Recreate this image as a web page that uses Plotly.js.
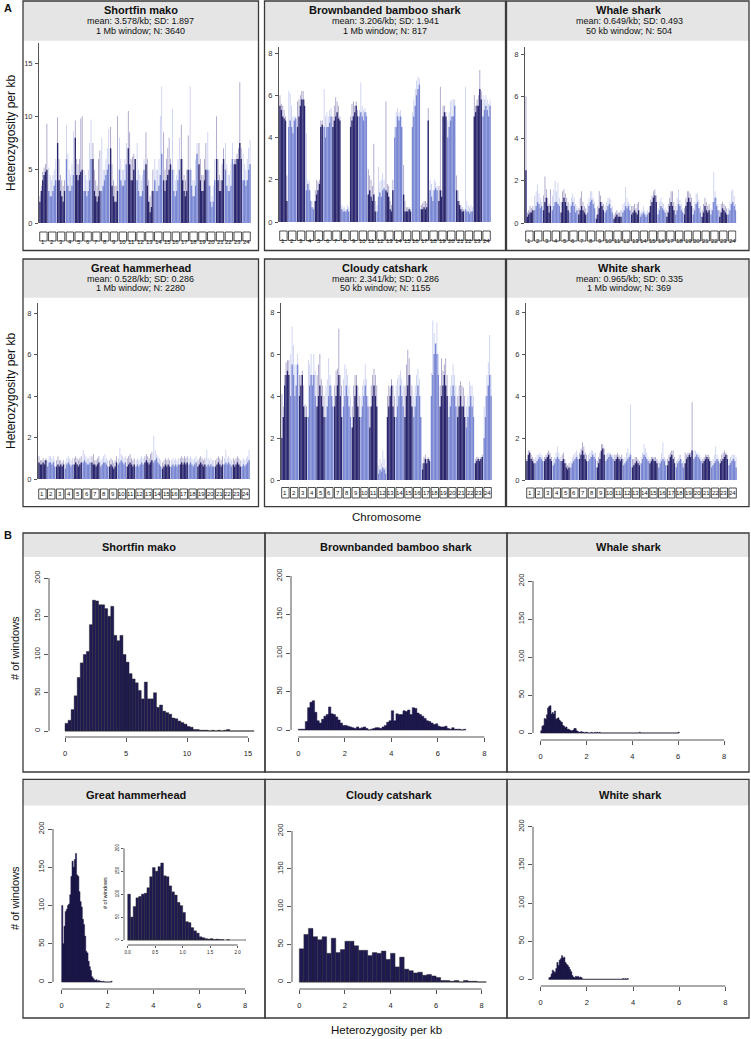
<!DOCTYPE html>
<html><head><meta charset="utf-8">
<script src="https://cdn.plot.ly/plotly-3.0.1.min.js"></script>
<style>body{margin:0;background:#fff}#chart{width:751px;height:1039px}</style>
</head><body><div id="chart"></div>
<script>
// ---------------- DATA ----------------
const chrLabels=['1','2','3','4','5','6','7','8','9','10','11','12','13','14','15','16','17','18','19','20','21','22','23','24'];
const speciesNames=['Shortfin mako','Brownbanded bamboo shark','Whale shark','Great hammerhead','Cloudy catshark','White shark'];
const speciesStats=['mean: 3.578/kb; SD: 1.897','mean: 3.206/kb; SD: 1.941','mean: 0.649/kb; SD: 0.493','mean: 0.528/kb; SD: 0.286','mean: 2.341/kb; SD: 0.286','mean: 0.965/kb; SD: 0.335'];
const speciesWindows=['1 Mb window; N: 3640','1 Mb window; N: 817','50 kb window; N: 504','1 Mb window; N: 2280','50 kb window; N: 1155','1 Mb window; N: 369'];

// heterozygosity per kb along each chromosome (body = dense level, peak = highest windows)
const makoBody=[[2.0,3.0,4.0,4.5,4.8,5.0],[3.0,2.5,2.5,3.0,3.5,4.0],[7.5,4.0,3.0,2.5,2.0,3.0],[6.0,3.5,3.0,3.0,3.5,4.5],[8.0,4.5,4.0,4.5,4.8,5.0],[3.0,3.0,2.5,3.0,4.0,6.0],[6.0,3.0,2.5,2.0,2.5,3.0],[3.0,3.5,4.0,4.5,5.0,5.5],[7.0,3.5,2.5,2.0,2.0,3.0],[5.0,4.0,3.5,3.5,4.0,5.5],[7.0,5.5,4.0,4.0,5.0,6.0],[4.0,3.0,2.5,2.5,3.0,5.0],[5.5,3.5,2.0,1.0,1.5,3.0],[4.0,3.0,3.0,3.5,4.5,6.5],[4.0,3.0,4.0,4.5,5.0,5.5],[5.0,3.0,2.5,3.0,4.0,5.0],[6.0,4.0,3.0,2.5,3.0,5.0],[5.0,3.5,2.5,2.5,3.5,6.5],[5.5,4.0,3.0,3.0,4.0,5.0],[5.0,3.5,2.0,1.5,2.0,4.0],[6.0,4.0,3.0,3.0,4.0,6.0],[5.0,3.5,3.0,3.0,3.5,6.0],[5.5,5.5,6.0,6.0,7.5,6.0],[4.0,4.0,3.5,4.0,5.0,5.5]];
const makoPeak=[[2.5,3.5,4.8,5.2,5.5,9.3],[5.2,4.5,4.0,4.5,5.0,6.0],[9.9,6.0,4.5,4.0,3.5,4.0],[9.2,6.5,5.0,4.5,5.5,8.6],[9.6,6.0,5.5,6.0,9.8,10.0],[5.0,4.5,4.0,5.0,7.5,9.7],[7.5,5.0,4.0,3.5,6.0,6.8],[8.0,5.0,5.0,6.0,7.0,8.8],[9.0,5.5,4.0,3.5,3.5,10.0],[8.0,6.0,5.0,5.0,6.0,7.5],[10.5,8.5,6.0,6.2,6.5,6.0],[7.5,5.0,4.5,4.0,4.5,6.0],[8.5,6.0,4.0,2.5,3.0,5.0],[6.0,5.0,5.0,6.0,10.0,12.8],[8.5,5.0,6.0,7.0,8.0,6.0],[10.7,5.0,4.0,4.5,6.0,8.0],[9.2,6.0,4.5,4.0,5.0,8.2],[12.8,5.0,4.0,4.0,6.0,7.5],[7.5,6.0,4.5,4.5,6.0,7.5],[8.5,5.0,3.5,2.5,3.5,6.0],[10.0,6.0,4.5,4.0,5.5,7.0],[7.5,5.5,4.5,4.5,5.5,7.5],[6.0,6.0,6.5,7.0,13.2,7.0],[6.5,5.5,5.0,6.0,7.0,7.8]];
const bambooBody=[[5.5,5.3,5.0,4.9,4.8,1.0],[4.5,4.8,4.5,4.2,4.8,4.9],[4.5,5.0,5.5,5.8,5.8,5.5],[1.5,1.8,1.5,1.0,0.7,0.6],[1.0,1.3,1.5,1.8,4.5,4.6],[4.5,4.0,4.5,4.5,4.7,5.0],[4.5,4.8,5.0,5.2,4.9,4.8],[0.6,0.5,0.5,0.5,0.6,0.5],[4.5,4.8,5.0,5.2,5.5,5.0],[5.0,5.2,5.0,4.8,5.2,5.0],[1.3,1.5,1.2,1.0,1.3,0.5],[0.5,1.2,1.4,1.2,1.5,1.6],[1.5,1.4,1.2,0.6,0.5,1.5],[4.0,4.5,5.0,4.8,5.0,4.5],[1.3,0.5,0.5,0.5,0.6,0.5],[4.5,5.0,5.5,6.0,6.3,6.5],[0.6,0.6,0.7,0.6,0.7,4.8],[1.5,1.2,1.0,1.5,1.6,1.5],[1.0,1.5,1.2,5.0,5.2,5.0],[4.0,4.5,4.8,5.0,5.0,5.5],[1.5,1.0,0.8,0.6,0.5,0.5],[0.6,0.5,0.5,0.4,0.5,0.5],[5.0,5.2,5.5,5.5,6.3,5.8],[5.0,5.3,5.5,5.3,5.0,5.5]];
const bambooPeak=[[6.0,5.6,5.5,5.3,5.0,2.2],[6.2,6.1,5.5,5.0,5.0,5.0],[5.7,5.8,6.0,6.2,6.2,5.8],[4.2,2.0,1.9,1.5,1.0,0.7],[1.5,2.0,1.9,2.0,4.8,4.8],[6.3,5.0,5.2,5.0,5.3,5.4],[5.0,5.5,5.9,5.7,5.5,5.0],[0.8,0.7,0.7,0.6,0.8,0.7],[5.0,5.6,5.7,5.5,5.7,5.3],[5.3,6.6,5.5,5.3,5.4,5.2],[2.5,2.2,2.0,1.7,3.7,1.0],[0.8,2.6,1.9,2.0,2.3,2.0],[5.7,1.8,1.7,1.0,0.8,2.0],[4.5,5.2,5.4,5.2,5.3,5.0],[2.7,1.0,0.7,0.7,0.7,0.6],[5.2,5.8,6.3,6.7,6.9,6.8],[0.8,0.9,1.0,1.0,0.9,5.4],[2.0,1.8,1.5,2.0,1.9,1.7],[1.7,6.4,1.5,5.5,5.5,5.2],[4.8,5.2,5.7,5.8,5.8,5.8],[2.2,1.5,1.0,0.8,0.7,0.6],[6.4,1.0,0.8,0.7,0.8,0.7],[6.0,5.5,5.8,6.0,7.2,6.2],[6.0,5.8,6.0,5.8,5.6,5.8]];
const whaleBody=[[2.5,0.3,0.4,0.5,0.5,0.6],[0.6,0.8,1.0,0.9,0.7,0.8],[0.6,1.0,1.2,0.8,0.5,0.8],[0.6,0.8,1.0,1.0,0.9,0.8],[0.5,1.0,1.2,1.0,0.8,0.6],[0.5,0.8,1.0,0.8,0.5,0.6],[0.4,0.6,0.8,0.6,0.5,0.4],[0.5,0.8,1.0,1.1,0.9,0.7],[0.2,0.4,0.7,1.0,0.8,0.6],[0.5,0.6,0.8,0.9,0.7,0.5],[0.2,0.3,0.4,0.3,0.3,0.3],[0.5,0.6,0.8,0.7,0.8,0.6],[0.4,0.5,0.6,0.5,0.4,0.6],[0.3,0.4,0.5,0.4,0.3,0.4],[0.5,0.8,1.0,1.2,1.3,1.0],[0.4,0.6,0.8,0.7,0.6,0.5],[0.3,0.5,0.8,1.0,0.8,0.6],[0.4,0.6,0.9,0.8,0.6,0.5],[0.4,0.8,1.0,1.2,1.0,0.8],[0.4,0.6,0.9,1.0,0.7,0.5],[0.3,0.5,0.8,0.6,0.5,0.6],[0.4,0.6,1.0,1.2,0.8,0.6],[0.3,0.5,0.7,0.6,0.5,0.4],[0.4,0.6,0.9,1.0,0.8,0.6]];
const whalePeak=[[6.0,0.5,0.6,0.8,0.7,0.8],[1.3,1.5,1.8,1.4,1.2,1.0],[1.3,2.2,1.6,1.2,0.9,1.6],[1.3,1.6,2.0,1.5,1.9,1.2],[1.0,1.5,1.6,1.4,1.2,1.0],[0.9,1.2,1.4,1.2,0.9,0.8],[0.7,1.2,1.5,1.0,0.8,0.7],[0.9,1.2,1.5,1.5,1.2,1.0],[0.4,0.8,1.5,1.3,1.0,0.9],[0.8,1.0,1.2,1.2,1.1,0.8],[0.4,0.5,0.6,0.5,0.5,0.6],[0.9,1.0,1.7,1.2,1.0,0.9],[0.8,0.8,0.9,0.7,0.9,1.0],[0.5,0.6,0.8,0.6,0.5,0.6],[0.8,1.1,1.3,1.5,1.6,1.3],[0.7,1.0,1.2,1.0,0.9,0.7],[0.6,0.9,1.2,1.5,1.5,1.0],[0.8,1.2,1.6,1.1,0.9,0.7],[0.7,1.2,1.5,1.5,1.4,1.2],[0.7,1.0,1.4,1.4,1.1,0.8],[0.6,0.9,1.2,1.0,0.8,0.9],[0.7,1.0,2.4,1.5,1.2,0.9],[0.6,0.9,1.0,0.9,0.8,0.7],[0.7,1.0,1.5,1.6,1.3,0.9]];
const hammerBody=[[0.8,0.7,0.7,0.8,0.7,0.9],[0.6,0.8,0.8,0.7,0.8,0.6],[0.6,0.7,0.6,0.7,0.6,0.7],[0.5,0.7,0.8,0.7,0.6,0.7],[0.7,0.8,0.7,0.6,0.7,0.8],[0.8,0.9,0.8,0.7,0.7,0.8],[0.8,0.7,0.7,0.6,0.7,0.8],[0.6,0.7,0.8,0.8,0.7,0.6],[0.6,0.7,0.6,0.5,0.6,0.8],[0.7,0.8,0.9,0.8,0.7,0.8],[0.6,0.7,0.8,0.7,0.6,0.7],[0.6,0.7,0.6,0.7,0.8,0.7],[0.8,0.9,0.8,0.7,0.8,0.9],[0.8,0.9,1.0,0.8,0.7,0.6],[0.5,0.6,0.7,0.6,0.7,0.6],[0.6,0.7,0.6,0.7,0.6,0.7],[0.7,0.8,0.7,0.8,0.7,0.8],[0.7,0.8,0.7,0.6,0.7,0.8],[0.6,0.7,0.8,0.7,0.6,0.7],[0.6,0.7,0.6,0.7,0.6,0.6],[0.6,0.7,0.8,0.7,0.6,0.7],[0.7,0.8,0.7,0.8,0.7,0.6],[0.7,0.6,0.7,0.8,0.7,0.6],[0.6,0.7,0.6,0.7,0.8,0.9]];
const hammerPeak=[[1.1,0.9,0.9,1.0,0.9,1.0],[0.9,1.1,1.1,1.0,1.1,0.9],[0.9,1.1,0.9,0.9,0.8,0.9],[0.8,1.0,1.1,1.0,0.9,1.0],[1.0,1.1,1.0,0.9,1.0,1.1],[1.4,1.2,1.1,1.0,1.0,1.1],[1.1,1.2,0.9,0.9,1.0,1.1],[0.9,1.0,1.1,1.2,1.0,0.9],[0.9,1.0,0.9,0.8,0.9,1.1],[1.0,1.5,1.2,1.1,1.0,1.1],[1.0,1.1,1.2,1.0,0.9,1.0],[0.9,1.0,0.9,1.0,1.1,1.0],[1.1,1.2,1.1,1.0,1.2,1.3],[2.1,1.4,1.2,1.1,1.0,0.9],[0.8,0.9,1.0,0.9,1.0,0.9],[0.9,1.0,0.9,1.0,0.9,1.0],[1.0,1.1,1.0,1.1,1.0,1.1],[1.0,1.1,1.0,0.9,1.0,1.1],[0.9,1.0,1.1,1.0,0.9,1.0],[1.4,1.0,0.9,1.0,0.9,0.9],[0.9,1.0,1.1,1.0,0.9,1.1],[1.0,1.4,1.0,1.1,1.0,0.9],[1.0,0.9,1.0,1.1,1.0,0.9],[0.9,1.0,0.9,1.0,1.1,1.4]];
const catBody=[[2.0,3.0,4.5,5.0,5.2,5.0],[4.0,5.5,5.0,4.0,4.5,5.5],[4.0,4.5,5.0,3.5,3.0,3.0],[3.0,4.5,5.0,4.5,5.0,4.0],[3.5,4.0,4.5,4.0,3.5,3.0],[3.0,3.5,4.0,4.5,4.0,3.5],[3.5,4.0,4.5,5.0,4.0,3.0],[3.5,4.0,4.5,4.0,3.5,3.0],[2.5,3.0,4.0,4.5,3.5,3.0],[3.0,3.5,4.0,4.5,4.0,3.5],[2.5,3.5,4.0,4.5,4.0,3.5],[0.3,0.5,0.4,0.6,0.5,0.3],[3.0,3.5,4.0,4.5,3.5,3.0],[3.0,3.5,4.0,4.5,4.0,3.5],[3.0,4.0,4.5,5.0,4.0,3.5],[3.0,3.5,4.0,4.5,4.0,3.0],[0.5,0.8,1.0,0.8,1.0,0.9],[4.0,5.0,6.0,6.5,6.0,5.0],[3.5,4.0,4.5,5.0,4.5,4.0],[3.0,3.5,4.0,4.5,4.0,3.5],[3.0,3.5,4.0,3.5,3.5,3.0],[2.5,3.0,3.5,4.0,3.5,3.0],[0.8,0.9,1.0,0.9,1.0,1.1],[2.0,3.0,4.0,4.5,5.0,4.0]];
const catPeak=[[4.1,3.5,5.0,5.6,5.7,5.7],[6.0,7.3,6.4,5.5,5.5,6.0],[5.0,5.0,5.2,4.5,3.6,3.5],[5.7,5.5,6.0,5.0,6.0,5.2],[5.0,5.5,6.0,4.8,4.5,4.0],[4.5,4.8,5.8,5.0,4.5,4.0],[4.5,5.2,5.3,7.2,5.0,4.5],[4.8,5.5,5.3,5.0,4.5,4.0],[3.5,4.5,5.0,5.0,4.5,4.0],[4.0,4.5,4.8,5.5,4.8,4.0],[3.5,4.5,5.0,5.3,5.0,4.5],[0.7,1.0,0.8,1.4,1.0,0.6],[4.0,4.5,4.4,4.8,4.5,4.0],[4.5,4.8,5.0,5.2,4.8,4.5],[4.5,5.5,6.2,5.8,5.0,4.5],[4.0,4.5,5.0,5.3,4.8,4.0],[0.8,1.1,1.2,1.0,1.1,1.0],[5.1,7.6,7.0,6.4,7.5,6.0],[4.5,5.8,5.2,5.5,5.8,5.0],[4.0,4.5,5.0,5.5,5.0,4.5],[4.0,4.5,4.7,4.5,4.4,4.0],[3.5,4.0,4.7,4.5,4.5,4.0],[1.0,1.1,1.1,1.0,1.1,1.2],[3.5,4.0,5.0,5.6,6.9,5.0]];
const whiteBody=[[0.9,1.2,1.3,1.0,0.9,0.8],[0.8,0.9,1.0,1.1,1.0,0.9],[0.9,1.0,1.1,1.2,1.0,0.9],[0.7,0.8,1.0,1.1,1.0,0.9],[0.9,1.0,0.8,0.6,0.5,0.6],[0.6,0.8,0.9,1.0,1.1,1.0],[1.0,1.2,1.4,1.2,1.0,0.9],[0.9,1.0,1.1,1.2,1.1,1.0],[0.6,0.8,1.0,1.4,1.5,1.2],[0.9,1.0,1.1,1.2,1.1,1.0],[0.9,1.0,1.1,1.0,0.9,1.0],[0.7,0.8,0.9,1.0,1.1,1.2],[0.6,0.7,0.8,0.9,0.8,0.7],[0.8,1.0,1.2,1.1,1.0,0.9],[0.8,0.9,1.0,0.9,0.9,0.8],[0.6,0.8,0.9,1.0,0.9,0.7],[0.7,0.9,1.1,1.2,1.0,0.8],[0.6,0.8,0.9,1.0,0.8,0.6],[0.8,1.0,1.1,1.2,1.1,1.4],[1.0,1.1,1.2,1.1,1.0,0.9],[0.8,0.9,1.0,1.1,1.0,0.9],[0.6,0.7,0.8,0.9,1.0,0.9],[0.8,0.9,1.0,1.1,1.2,1.0],[0.7,0.8,0.9,1.0,0.9,0.6]];
const whitePeak=[[1.0,1.4,1.4,1.2,1.1,1.0],[1.1,1.2,1.2,1.3,1.2,1.1],[1.1,1.2,1.3,1.4,1.3,1.1],[1.0,1.1,1.3,1.6,1.3,1.1],[1.2,1.3,1.0,0.8,0.7,0.8],[0.9,1.1,1.2,1.3,1.4,1.2],[1.3,1.5,1.8,1.6,1.3,1.2],[1.2,1.3,1.4,1.4,1.3,1.3],[0.9,1.1,1.3,1.7,1.7,1.5],[1.2,1.3,1.3,1.3,1.2,1.2],[1.2,1.2,1.3,1.2,1.1,1.2],[1.0,1.1,1.3,1.5,1.3,3.6],[1.0,1.0,1.1,1.1,1.0,0.9],[1.1,1.3,1.7,1.5,1.3,1.1],[1.0,1.1,1.1,1.1,1.1,1.0],[0.9,1.0,1.3,1.8,1.1,1.0],[1.0,1.2,1.3,1.4,1.4,1.1],[0.9,1.0,1.2,1.2,1.0,0.9],[1.3,1.2,1.3,1.3,1.3,3.7],[1.4,1.4,1.3,1.3,1.2,1.1],[1.0,1.1,1.2,1.2,1.2,1.1],[0.9,1.0,1.2,1.6,1.2,1.0],[1.0,1.2,1.3,1.4,1.3,1.2],[1.0,1.1,1.2,1.2,1.2,1.1]];

// histograms: bin starts and counts (# of windows)
const makoBins=[0,0.25,0.5,0.75,1,1.25,1.5,1.75,2,2.25,2.5,2.75,3,3.25,3.5,3.75,4,4.25,4.5,4.75,5,5.25,5.5,5.75,6,6.25,6.5,6.75,7,7.25,7.5,7.75,8,8.25,8.5,8.75,9,9.25,9.5,9.75,10,10.25,10.5,10.75,11,11.25,11.5,11.75,12,12.25,12.5,12.75,13,13.25,13.5,13.75,14,14.25,14.5,14.75,15,15.25];
const makoCounts=[10,14,28,46,70,89,100,104,139,171,170,165,165,160,150,163,125,118,125,100,90,75,68,63,53,42,64,42,42,50,31,34,26,24,22,17,16,13,11,9,6,5,2,2,1,1,1,0,1,0,1,0,1,2,0,0,0,0,0,0,0,0];
const bambooBins=[0,0.1,0.2,0.3,0.4,0.5,0.6,0.7,0.8,0.9,1.0,1.1,1.2,1.3,1.4,1.5,1.6,1.7,1.8,1.9,2.0,2.1,2.2,2.3,2.4,2.5,2.6,2.7,2.8,2.9,3.0,3.1,3.2,3.3,3.4,3.5,3.6,3.7,3.8,3.9,4.0,4.1,4.2,4.3,4.4,4.5,4.6,4.7,4.8,4.9,5.0,5.1,5.2,5.3,5.4,5.5,5.6,5.7,5.8,5.9,6.0,6.1,6.2,6.3,6.4,6.5,6.6,6.7,6.8,6.9,7.0,7.1];
const bambooCounts=[1,1,1,11,29,36,38,23,12,9,14,18,20,30,21,20,17,13,9,6,6,5,4,3,2,4,2,3,4,2,0,1,2,3,3,2,4,6,10,12,25,12,21,20,20,25,24,26,20,29,28,22,20,18,15,12,11,9,7,8,5,4,4,5,2,1,3,1,1,1,0,1];
const whaleBins=[0,0.05,0.1,0.15,0.2,0.25,0.3,0.35,0.4,0.45,0.5,0.55,0.6,0.65,0.7,0.75,0.8,0.85,0.9,0.95,1.0,1.05,1.1,1.15,1.2,1.25,1.3,1.35,1.4,1.45,1.5,1.55,1.6,1.65,1.7,1.75,1.8,1.85,1.95,2.0,2.2,2.35,2.45,2.55,4.3,6.0];
const whaleCounts=[3,9,10,19,18,24,33,35,36,25,27,25,29,18,19,20,17,15,14,10,9,7,8,5,5,4,3,3,4,6,6,3,2,1,1,2,1,1,1,1,1,1,1,1,1,1];
const hammerBins=[0,0.05,0.1,0.15,0.2,0.25,0.3,0.35,0.4,0.45,0.5,0.55,0.6,0.65,0.7,0.75,0.8,0.85,0.9,0.95,1.0,1.05,1.1,1.15,1.2,1.25,1.3,1.35,1.4,1.45,1.5,1.55,1.6,1.65,1.7,1.8,2.15];
const hammerCounts=[100,50,73,92,95,100,102,114,138,158,150,160,168,140,138,118,105,98,82,75,60,40,38,27,20,15,7,5,3,2,3,1,2,1,1,1,1];
const catBins=[0,0.2,0.4,0.6,0.8,1.0,1.2,1.4,1.6,1.8,2.0,2.2,2.4,2.6,2.8,3.0,3.2,3.4,3.6,3.8,4.0,4.2,4.4,4.6,4.8,5.0,5.2,5.4,5.6,5.8,6.0,6.2,6.4,6.6,6.8,7.0,7.2,7.4,7.6,7.8,8.0];
const catCounts=[44,63,71,60,56,60,38,58,39,43,54,54,48,42,42,35,39,38,41,30,38,20,33,17,15,12,13,9,10,8,6,2,2,1,2,0,2,1,1,0,0];
const whiteBins=[0.35,0.4,0.45,0.5,0.55,0.6,0.65,0.7,0.75,0.8,0.85,0.9,0.95,1.0,1.05,1.1,1.15,1.2,1.25,1.3,1.35,1.4,1.45,1.5,1.55,1.6,1.65,1.7,1.75,3.55,3.65,3.75];
const whiteCounts=[2,3,7,12,10,9,14,22,18,25,27,31,28,29,22,20,18,16,13,10,5,3,2,4,3,4,2,3,2,1,1,1];
const makoBinWidth=0.25, bambooBinWidth=0.1, whaleBinWidth=0.05, hammerBinWidth=0.05, catBinWidth=0.2, whiteBinWidth=0.05;

// ---------------- LAYOUT HELPERS ----------------
const W=751,H=1039;
const FONT='Liberation Sans, Arial, Helvetica, sans-serif';
const px=x=>x/W, py=y=>1-y/H;
const ax=(k)=>k===1?'':String(k);
function lin(p0,v0,p1,v1,p){return v0+(p-p0)*(v1-v0)/(p1-p0);}

const DARK='#2a276e', LIGHT='#7987d3', DARK_T='#a29cc4', LIGHT_T='#c7cdf0';
const HIST='#1f1b52';

const traces=[]; const shapes=[]; const annotations=[];
const layout={width:W,height:H,margin:{l:0,r:0,t:0,b:0},paper_bgcolor:'#fff',plot_bgcolor:'rgba(0,0,0,0)',
  showlegend:false,barmode:'overlay',font:{family:FONT,color:'#222'},shapes:shapes,annotations:annotations};

// panel frames [x0,x1] and [yTop,yHeaderBottom,yBottom]
const colsA=[[23,258.5],[264.5,505.5],[506.5,749]];
const colsB=[[23,265],[265,507],[507,749]];
const rowsA=[[1,40.7,250.5],[259,297.7,506.7]];
const rowsB=[[533,557,772],[779.3,805.5,1018]];
function frame(x0,x1,y0,yh,y1){
  shapes.push({type:'rect',xref:'paper',yref:'paper',x0:px(x0),x1:px(x1),y0:py(yh),y1:py(y0),fillcolor:'#e5e5e5',line:{width:0},layer:'below'});
  shapes.push({type:'rect',xref:'paper',yref:'paper',x0:px(x0),x1:px(x1),y0:py(y1),y1:py(y0),fillcolor:'rgba(0,0,0,0)',line:{color:'#3a3a3a',width:1.3}});
}
rowsA.forEach(r=>colsA.forEach(c=>frame(c[0],c[1],r[0],r[1],r[2])));
rowsB.forEach(r=>colsB.forEach(c=>frame(c[0],c[1],r[0],r[1],r[2])));

function text(x,y,t,size,opts){annotations.push(Object.assign({xref:'paper',yref:'paper',x:px(x),y:py(y),text:t,showarrow:false,xanchor:'center',yanchor:'middle',font:{family:FONT,size:size,color:'#111'}},opts||{}));}

// ---------------- PANEL A: chromosome plots ----------------
const manh=[
 {body:makoBody,peak:makoPeak,x0:39,x1:251,yTop:43,y0:223,refV:15,refP:63,ticks:[0,5,10,15],box:[232,241]},
 {body:bambooBody,peak:bambooPeak,x0:279,x1:491,yTop:47,y0:222,refV:8,refP:53,ticks:[0,2,4,6,8],box:[231,240.5]},
 {body:whaleBody,peak:whalePeak,x0:525,x1:736.5,yTop:47,y0:223,refV:8,refP:54,ticks:[0,2,4,6,8],box:[231,241]},
 {body:hammerBody,peak:hammerPeak,x0:38,x1:250,yTop:303,y0:479,refV:8,refP:313,ticks:[0,2,4,6,8],box:[489,499]},
 {body:catBody,peak:catPeak,x0:281,x1:492,yTop:303,y0:480,refV:8,refP:312,ticks:[0,2,4,6,8],box:[487.5,498]},
 {body:whiteBody,peak:whitePeak,x0:526,x1:737,yTop:303,y0:480,refV:8,refP:312,ticks:[0,2,4,6,8],box:[488,498]}
];
manh.forEach((m,i)=>{
  const k=i+1, xa='x'+ax(k), ya='y'+ax(k);
  const top=lin(m.y0,0,m.refP,m.refV,m.yTop);
  layout['xaxis'+ax(k)]={domain:[px(m.x0),px(m.x1)],range:[0,24],visible:false,anchor:ya,fixedrange:true};
  layout['yaxis'+ax(k)]={domain:[py(m.y0),py(m.yTop)],range:[0,top],anchor:xa,showline:true,linecolor:'#555',linewidth:1,
    ticks:'outside',ticklen:3,tickcolor:'#555',tickvals:m.ticks,ticktext:m.ticks.map(String),tickfont:{size:7.5,color:'#333'},
    showgrid:false,zeroline:false,ticklabelstandoff:1,fixedrange:true};
  const xs=[],yb=[],yp=[],cb=[],cp=[],wd=[],wp=[];
  m.body.forEach((row,c)=>{const n=row.length;row.forEach((v,j)=>{
    xs.push(c+0.03+(j+0.5)*0.94/n); wd.push(0.94/n); wp.push(0.94/n*0.6); yb.push(v); yp.push(m.peak[c][j]);
    cb.push(c%2===0?DARK:LIGHT); cp.push(c%2===0?DARK_T:LIGHT_T);});});
  traces.push({type:'bar',x:xs,y:yp,width:wp,xaxis:xa,yaxis:ya,marker:{color:cp,line:{width:0}},hoverinfo:'skip'});
  traces.push({type:'bar',x:xs,y:yb,width:wd,xaxis:xa,yaxis:ya,marker:{color:cb,line:{width:0}},hoverinfo:'skip'});
  chrLabels.forEach((lab,c)=>{
    shapes.push({type:'rect',xref:xa,yref:'paper',x0:c+0.08,x1:c+0.92,y0:py(m.box[1]),y1:py(m.box[0]),fillcolor:'#fff',line:{color:'#222',width:0.8}});
    annotations.push({xref:xa,yref:'paper',x:c+0.5,y:py((m.box[0]+m.box[1])/2),text:lab,showarrow:false,font:{family:FONT,size:6,color:'#111'}});
  });
});

// panel A titles
const titleA=[[140.5,10,21,31],[385,10,21,31],[629,10,21,31],[140.5,268,279,288],[385,268,279,288],[629,268,279,288]];
titleA.forEach((t,i)=>{
  text(t[0],t[1],'<b>'+speciesNames[i]+'</b>',11);
  text(t[0],t[2],speciesStats[i],9);
  text(t[0],t[3],speciesWindows[i],9);
});
text(11,133,'Heterozygosity per kb',12,{textangle:-90});
text(11,391,'Heterozygosity per kb',12,{textangle:-90});
text(386,517,'Chromosome',11.5);
text(8,8,'<b>A</b>',11);
text(8,535,'<b>B</b>',11);

// ---------------- PANEL B: histograms ----------------
const hists=[
 {bins:makoBins,counts:makoCounts,w:makoBinWidth,yAxX:49,yz:731,y200:578,xAxY:737,x0p:65,x0v:0,x1p:248,x1v:15,right:256,top:572,xt:[0,5,10,15]},
 {bins:bambooBins,counts:bambooCounts,w:bambooBinWidth,yAxX:291,yz:730,y200:576,xAxY:737,x0p:298.3,x0v:0,x1p:484.3,x1v:8,right:500,top:570,xt:[0,2,4,6,8]},
 {bins:whaleBins,counts:whaleCounts,w:whaleBinWidth,yAxX:533,yz:733,y200:581,xAxY:740,x0p:540.7,x0v:0,x1p:724,x1v:8,right:745,top:575,xt:[0,2,4,6,8]},
 {bins:hammerBins,counts:hammerCounts,w:hammerBinWidth,yAxX:53,yz:982,y200:829,xAxY:989,x0p:61.7,x0v:0,x1p:245,x1v:8,right:255,top:823,xt:[0,2,4,6,8]},
 {bins:catBins,counts:catCounts,w:catBinWidth,yAxX:292,yz:982,y200:831,xAxY:989,x0p:299.3,x0v:0,x1p:481.7,x1v:8,right:500,top:825,xt:[0,2,4,6,8]},
 {bins:whiteBins,counts:whiteCounts,w:whiteBinWidth,yAxX:533,yz:979.3,y200:826.7,xAxY:986,x0p:540.7,x0v:0,x1p:725.3,x1v:8,right:745,top:820,xt:[0,2,4,6,8]},
 {bins:hammerBins,counts:hammerCounts,w:hammerBinWidth,yAxX:124,yz:940,y200:848.3,xAxY:945,x0p:127.7,x0v:0,x1p:237.7,x1v:2,right:246,top:842,xt:[0,0.5,1,1.5,2],xtt:['0.0','0.5','1.0','1.5','2.0'],inset:true}
];
hists.forEach((h,i)=>{
  const k=i+7, xa='x'+ax(k), ya='y'+ax(k);
  const fs=h.inset?4.5:7.5, tl=h.inset?2:4;
  const pxPerUnit=(h.x1p-h.x0p)/(h.x1v-h.x0v);
  const narrow=h.w*pxPerUnit<2.5;
  layout['xaxis'+ax(k)]={domain:[px(h.yAxX),px(h.right)],range:[lin(h.x0p,h.x0v,h.x1p,h.x1v,h.yAxX),lin(h.x0p,h.x0v,h.x1p,h.x1v,h.right)],
    anchor:ya,showline:false,showgrid:false,zeroline:false,ticks:'outside',ticklen:tl,tickcolor:'#555',tickvals:h.xt,ticktext:h.xtt||h.xt.map(String),
    tickfont:{size:fs,color:'#222'},ticklabelstandoff:h.inset?1:5,fixedrange:true};
  layout['yaxis'+ax(k)]={domain:[py(h.xAxY),py(h.top)],range:[lin(h.yz,0,h.y200,200,h.xAxY),lin(h.yz,0,h.y200,200,h.top)],
    anchor:xa,showline:false,showgrid:false,zeroline:false,ticks:'outside',ticklen:tl,tickcolor:'#555',tickvals:[0,50,100,150,200],
    ticktext:['0','50','100','150','200'],tickangle:-90,tickfont:{size:fs,color:'#222'},ticklabelstandoff:h.inset?0:1,fixedrange:true};
  // R-style axis lines spanning first..last tick
  shapes.push({type:'line',xref:xa,yref:ya+' domain',x0:h.xt[0],x1:h.xt[h.xt.length-1],y0:0,y1:0,line:{color:'#555',width:1}});
  shapes.push({type:'line',xref:xa+' domain',yref:ya,x0:0,x1:0,y0:0,y1:200,line:{color:'#555',width:1}});
  const last=h.bins[h.bins.length-1]+h.w;
  traces.push({type:'scatter',mode:'lines',x:[h.bins[0],last],y:[0,0],xaxis:xa,yaxis:ya,line:{color:'#333',width:0.7},hoverinfo:'skip'});
  if(narrow){
    // narrow bins: draw the histogram outline as one filled step polygon (avoids sub-pixel striping)
    const sx=[],sy=[];
    h.bins.forEach((b,j)=>{sx.push(b,b,b+h.w,b+h.w);sy.push(0,h.counts[j],h.counts[j],0);});
    traces.push({type:'scatter',mode:'lines',x:sx,y:sy,fill:'toself',fillcolor:HIST,line:{color:'#1a1740',width:0.5},xaxis:xa,yaxis:ya,hoverinfo:'skip'});
  } else {
    traces.push({type:'bar',x:h.bins.map(b=>b+h.w/2),y:h.counts,width:h.bins.map(()=>h.w),xaxis:xa,yaxis:ya,
      marker:{color:HIST,line:{color:'#222',width:0.4}},hoverinfo:'skip'});
  }
  if(h.inset){text(105,893,'# of windows',5.5,{textangle:-90});}
});
const titleB=[[139,547],[396,547],[629,547],[136,795],[389,795],[630,795]];
titleB.forEach((t,i)=>text(t[0],t[1],'<b>'+speciesNames[i]+'</b>',11));
text(15,648,'# of windows',11,{textangle:-90});
text(15,898,'# of windows',11,{textangle:-90});
text(386,1030,'Heterozygosity per kb',11.5);

Plotly.newPlot('chart',traces,layout,{staticPlot:true,displayModeBar:false});
</script></body></html>
